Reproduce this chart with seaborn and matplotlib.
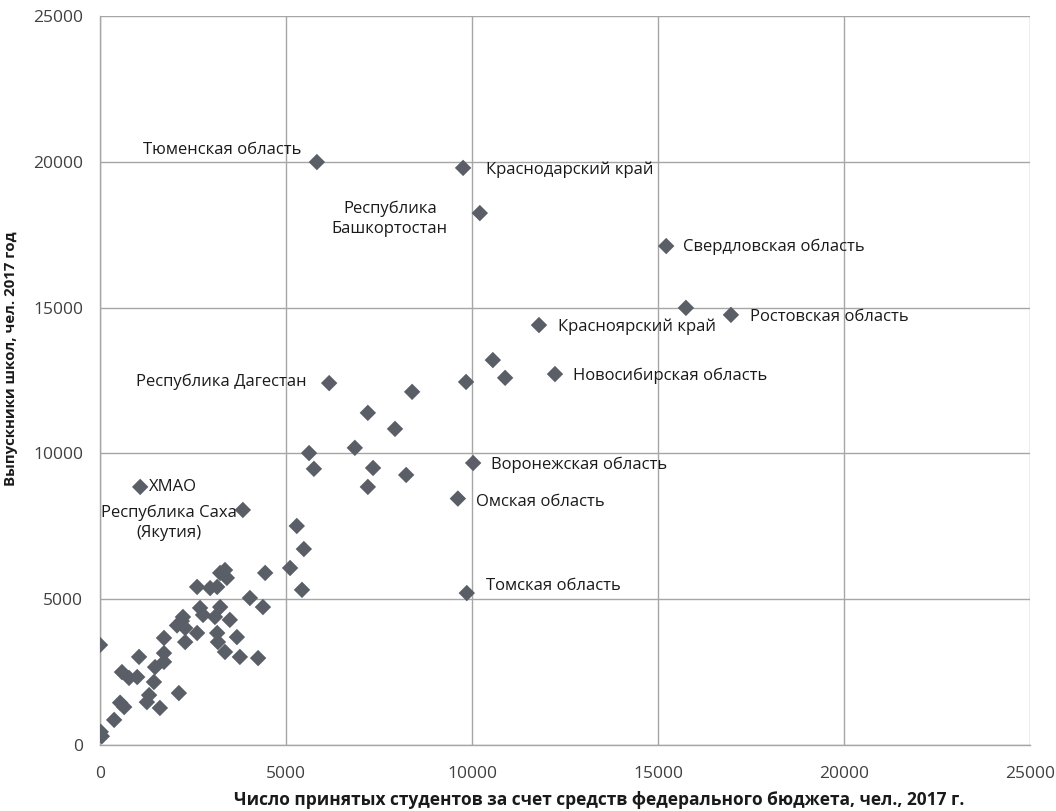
import pandas as pd
import seaborn as sns
import matplotlib.pyplot as plt

# Values
admitted = [
    0, 20, 50, 380, 540, 650, 590, 780, 1000, 1050,
    1720, 1720, 1720, 1480, 1450, 1320, 1260, 1610, 2120, 2070,
    2200, 2230, 2290, 2290, 2610, 3360, 3230, 3410, 2610, 2960,
    3150, 2690, 2770, 3230, 3090, 3490, 3150, 3170, 3360, 3680,
    3760, 4250, 4030, 4380, 4440, 5110, 5430, 5480, 5290, 3840,
    1080, 5620, 5750, 6850, 7340, 7200, 8230, 7930, 7200, 8390,
    6160, 9840, 10560, 10890, 12230, 10030, 9620, 9860, 11800, 15750,
    16960, 15220, 10210, 9760, 5830,
]
graduates = [
    3430, 450, 300, 860, 1450, 1300, 2500, 2300, 2330, 3020,
    3670, 3150, 2850, 2670, 2160, 1710, 1470, 1270, 1780, 4100,
    4250, 4390, 4010, 3530, 3840, 6000, 5900, 5730, 5420, 5380,
    5420, 4700, 4460, 4730, 4390, 4290, 3840, 3530, 3190, 3700,
    3020, 2980, 5040, 4730, 5900, 6070, 5320, 6720, 7510, 8060,
    8850, 10010, 9470, 10190, 9500, 8850, 9260, 10840, 11390, 12110,
    12410, 12450, 13200, 12590, 12720, 9670, 8450, 5210, 14400, 14990,
    14750, 17110, 18240, 19790, 19990,
]

# Labelled regions: (name, x, y)
label_names = [
    "Тюменская область", "Краснодарский край", "Республика\nБашкортостан",
    "Свердловская область", "Ростовская область", "Красноярский край",
    "Новосибирская область", "Республика Дагестан", "Воронежская область",
    "Омская область", "Томская область", "ХМАО", "Республика Саха\n(Якутия)",
]
label_x = [5830, 9760, 10210, 15220, 16960, 11800, 12230, 6160, 10030, 9620, 9860, 1080, 3840]
label_y = [19990, 19790, 18240, 17110, 14750, 14400, 12720, 12410, 9670, 8450, 5210, 8850, 8060]

# text placement relative to the point (pixels) and alignment
label_offsets = [(-16, 12), (23, -2), (-90, -6), (17, -1), (19, -2), (19, -2),
                 (18, -2), (-23, 1), (18, -2), (18, -3), (19, 7), (9, 0), (-74, -13)]
label_ha = ["right", "left", "center", "left", "left", "left",
            "left", "right", "left", "left", "left", "left", "center"]

df = pd.DataFrame({"admitted": admitted, "graduates": graduates})

sns.set_style("white")
plt.rcParams['font.family'] = ['Open Sans', 'DejaVu Sans']

fig = plt.figure(figsize=(10.56, 8.11), dpi=100)
ax = fig.add_axes([0.0947, 0.0814, 0.8807, 0.8989])

sns.scatterplot(data=df, x="admitted", y="graduates", marker="D", s=70,
                color="#5A5F67", edgecolor="none", ax=ax, zorder=3)

for name, x, y, off, ha in zip(label_names, label_x, label_y, label_offsets, label_ha):
    ax.annotate(name, (x, y), xytext=off, textcoords="offset pixels",
                ha=ha, va="center", fontsize=12, color="#1a1a1a",
                linespacing=1.3, zorder=4)

ax.set_xlim(0, 25000)
ax.set_ylim(0, 25000)
ax.set_xticks(range(0, 25001, 5000))
ax.set_yticks(range(0, 25001, 5000))
ax.grid(True, color="#a6a6a6", linewidth=1)
ax.set_axisbelow(True)
for side in ["top", "right"]:
    ax.spines[side].set_visible(False)
for side in ["left", "bottom"]:
    ax.spines[side].set_color("#a6a6a6")
    ax.spines[side].set_linewidth(1)
ax.tick_params(length=0, labelsize=12.5, colors="#404040")
ax.tick_params(axis="y", pad=12)
ax.tick_params(axis="x", pad=15)

ax.set_xlabel("Число принятых студентов за счет средств федерального бюджета, чел., 2017 г.",
              fontsize=12.5, fontweight="bold", color="#1a1a1a")
ax.set_ylabel("Выпускники школ, чел. 2017 год", fontsize=10.8, fontweight="bold", color="#1a1a1a")
ax.xaxis.set_label_coords(0.537, -0.063)
ax.yaxis.set_label_coords(-0.088, 0.53)

fig.savefig("out.png", dpi=100)
